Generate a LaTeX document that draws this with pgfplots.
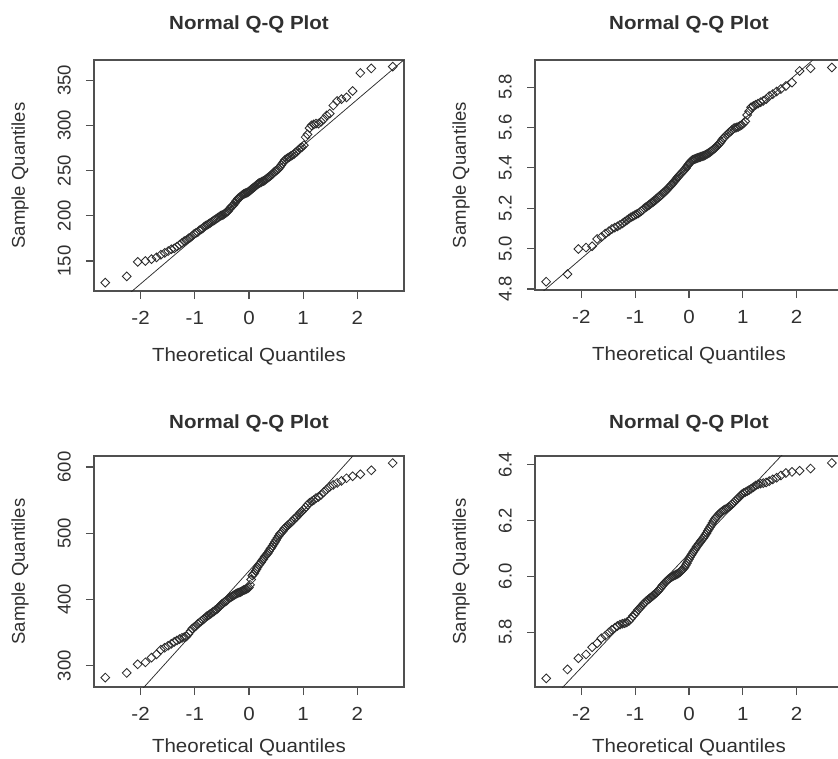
\documentclass[border=0pt]{standalone}
\usepackage{pgfplots}
\pgfplotsset{compat=1.18}
\usepackage{pgfplotstable}
\usepackage{fontspec}
\setmainfont{Liberation Sans}
\newfontfamily\hfont{Liberation Sans}[FakeStretch=1.08]
\definecolor{ink}{HTML}{303030}
\definecolor{boxc}{HTML}{505050}
\definecolor{ptc}{HTML}{2C2C2C}

% theoretical quantiles (n = 125) and the four sorted samples
\pgfplotstableread{
x a b c d
-2.652 126 4.836 282 5.634
-2.257 133 4.874 289 5.666
-2.054 149 4.998 302 5.706
-1.911 150 5.005 305 5.720
-1.799 152 5.012 312 5.746
-1.706 154 5.048 317 5.760
-1.626 157 5.058 324 5.778
-1.555 159 5.074 327 5.787
-1.491 161 5.085 330 5.798
-1.433 163 5.097 333 5.808
-1.379 164 5.104 336 5.815
-1.329 166 5.110 338 5.822
-1.282 168 5.117 340 5.827
-1.237 170 5.125 342 5.830
-1.195 172 5.133 343 5.832
-1.155 173 5.140 344 5.835
-1.117 175 5.148 348 5.840
-1.080 176 5.155 352 5.848
-1.045 178 5.160 356 5.857
-1.011 180 5.165 358 5.864
-0.978 181 5.170 360 5.872
-0.946 182 5.174 363 5.880
-0.915 184 5.180 365 5.886
-0.885 185 5.186 367 5.893
-0.856 186 5.193 369 5.899
-0.827 188 5.200 371 5.905
-0.799 189 5.205 373 5.910
-0.772 190 5.210 375 5.915
-0.745 191 5.215 376 5.919
-0.719 192 5.221 378 5.923
-0.694 193 5.226 379 5.927
-0.668 194 5.230 381 5.931
-0.643 195 5.236 382 5.935
-0.619 196 5.241 384 5.939
-0.595 197 5.247 385 5.943
-0.571 198 5.252 387 5.948
-0.548 199 5.257 389 5.953
-0.524 200 5.262 391 5.959
-0.502 200.5 5.268 393 5.965
-0.479 201 5.274 394 5.970
-0.457 202 5.279 396 5.975
-0.434 203 5.285 397 5.980
-0.413 204 5.291 398 5.984
-0.391 205 5.298 400 5.988
-0.369 207 5.304 402 5.992
-0.348 208 5.310 403 5.995
-0.327 210 5.316 404 5.998
-0.306 211 5.322 405 6.000
-0.285 212 5.330 406 6.002
-0.264 214 5.336 407 6.004
-0.243 216 5.343 408 6.006
-0.222 217 5.350 409 6.008
-0.202 219 5.356 410 6.010
-0.182 220 5.362 410.5 6.013
-0.161 221 5.368 411 6.016
-0.141 222 5.374 412 6.020
-0.121 223 5.380 413 6.024
-0.100 224 5.386 414 6.028
-0.080 224.5 5.392 414.5 6.034
-0.060 225 5.398 415 6.040
-0.040 225.5 5.406 416 6.047
-0.020 226 5.413 417 6.055
0.000 227 5.420 418 6.062
0.020 228 5.427 422 6.069
0.040 229 5.433 430 6.076
0.060 230 5.438 436 6.082
0.080 231 5.441 438 6.088
0.100 232 5.443 440 6.094
0.121 233 5.445 443 6.100
0.141 234 5.447 446 6.106
0.161 235 5.449 449 6.111
0.182 236 5.451 452 6.117
0.202 236.5 5.453 454 6.122
0.222 237 5.455 456 6.127
0.243 238 5.457 459 6.132
0.264 238.5 5.459 461 6.137
0.285 239 5.461 464 6.143
0.306 240 5.464 466 6.150
0.327 241 5.467 468 6.156
0.348 242 5.470 470 6.163
0.369 243 5.474 473 6.170
0.391 244 5.478 476 6.177
0.413 245 5.483 478 6.184
0.434 246 5.487 481 6.192
0.457 248 5.492 484 6.200
0.479 249 5.497 487 6.206
0.502 250 5.503 490 6.212
0.524 251 5.510 493 6.215
0.548 252 5.515 496 6.222
0.571 254 5.522 499 6.226
0.595 256 5.530 501 6.230
0.619 258 5.540 503 6.234
0.643 260 5.548 506 6.237
0.668 262 5.555 508 6.240
0.694 263 5.562 510 6.243
0.719 264 5.568 512 6.246
0.745 265 5.575 514 6.250
0.772 266 5.580 516 6.254
0.799 267 5.588 518 6.259
0.827 268 5.595 521 6.264
0.856 270 5.598 523 6.270
0.885 271 5.600 525 6.276
0.915 273 5.603 528 6.281
0.946 275 5.607 531 6.287
0.978 276 5.612 533 6.294
1.011 278 5.620 536 6.299
1.045 287 5.630 539 6.302
1.080 290 5.662 543 6.306
1.117 297 5.680 546 6.310
1.155 300 5.700 548 6.315
1.195 301 5.706 550 6.320
1.237 302 5.712 553 6.326
1.282 302 5.718 555 6.330
1.329 304 5.725 558 6.333
1.379 307 5.732 562 6.335
1.433 311 5.740 566 6.337
1.491 313 5.755 570 6.342
1.555 322 5.765 573 6.348
1.626 327 5.778 576 6.354
1.706 329 5.790 579 6.362
1.799 331 5.805 583 6.371
1.911 338 5.822 586 6.375
2.054 358 5.880 589 6.379
2.257 363 5.893 595 6.387
2.652 365 5.897 606 6.407
}\qqdata

\pgfplotsset{
  qq/.style={
    scale only axis, anchor=south west, clip=true,
    xmin=-2.86, xmax=2.86, xtick={-2,-1,0,1,2},
    tick align=outside, xtick pos=left, ytick pos=left,
    major tick length=8pt,
    axis line style={draw=boxc, line width=1.2pt},
    major tick style={draw=boxc, line width=1.1pt},
    /pgf/number format/assume math mode=true,
    xticklabel style={font=\hfont\fontsize{19}{22}\selectfont, text=ink,
      anchor=north, inner sep=0pt, yshift=-12pt},
    yticklabel style={font=\fontsize{18.5}{22}\selectfont, text=ink,
      xshift=-15pt, rotate=90, anchor=south, inner sep=0pt},
    title={Normal Q-Q Plot},
    title style={font=\hfont\bfseries\fontsize{19}{22}\selectfont, text=ink,
      at={(axis description cs:0.5,1)}, anchor=base},
    xlabel={Theoretical Quantiles},
    xlabel style={font=\hfont\fontsize{19}{22}\selectfont, text=ink,
      at={(axis description cs:0.5,0)}, anchor=base, yshift=-70pt},
    ylabel={Sample Quantiles},
    ylabel style={font=\fontsize{18.5}{22}\selectfont, text=ink, anchor=center},
  },
  lowrow/.style={xlabel style={yshift=4.5pt}},
  onedec/.style={yticklabel style={/pgf/number format/.cd,
    fixed, fixed zerofill, precision=1}},
  qqpts/.style={only marks, mark=square, mark size=3.1pt,
    mark options={rotate=45, draw=ptc, fill=none, line width=0.85pt}},
  qqline/.style={no marks, draw=ptc, line width=0.75pt},
}

\begin{document}
\begin{tikzpicture}
\path[use as bounding box] (0pt,0pt) rectangle (838pt,-758pt);
\clip (0pt,0pt) rectangle (838pt,-758pt);

\begin{axis}[qq, at={(94pt,-291pt)}, width=310pt, height=231pt,
  ymin=116.8, ymax=372.3, ytick={150,200,250,300,350},
  title style={yshift=24.5pt},
  ylabel style={at={(axis description cs:-0.2387,0.5)}}]
\addplot[qqpts] table[x=x, y=a] {\qqdata};
\addplot[qqline] coordinates {(-3,73.7) (3,379.7)};
\end{axis}

\begin{axis}[qq, onedec, at={(535pt,-290pt)}, width=308pt, height=230pt,
  ymin=4.795, ymax=5.934, ytick={4.8,5.0,5.2,5.4,5.6,5.8},
  title style={yshift=24.5pt},
  ylabel style={at={(axis description cs:-0.2403,0.5)}}]
\addplot[qqpts] table[x=x, y=b] {\qqdata};
\addplot[qqline] coordinates {(-3,4.722) (3,6.094)};
\end{axis}

\begin{axis}[qq, lowrow, at={(94pt,-687pt)}, width=310pt, height=231pt,
  ymin=267.7, ymax=616.6, ytick={300,400,500,600},
  title style={yshift=21.5pt},
  ylabel style={at={(axis description cs:-0.2387,0.5)}}]
\addplot[qqpts] table[x=x, y=c] {\qqdata};
\addplot[qqline] coordinates {(-3,171.2) (3,714.8)};
\end{axis}

\begin{axis}[qq, lowrow, onedec, at={(535pt,-687pt)}, width=308pt, height=231pt,
  ymin=5.603, ymax=6.432, ytick={5.8,6.0,6.2,6.4},
  title style={yshift=21.5pt},
  ylabel style={at={(axis description cs:-0.2403,0.5)}}]
\addplot[qqpts] table[x=x, y=d] {\qqdata};
\addplot[qqline] coordinates {(-3,5.468) (3,6.696)};
\end{axis}
\end{tikzpicture}
\end{document}
